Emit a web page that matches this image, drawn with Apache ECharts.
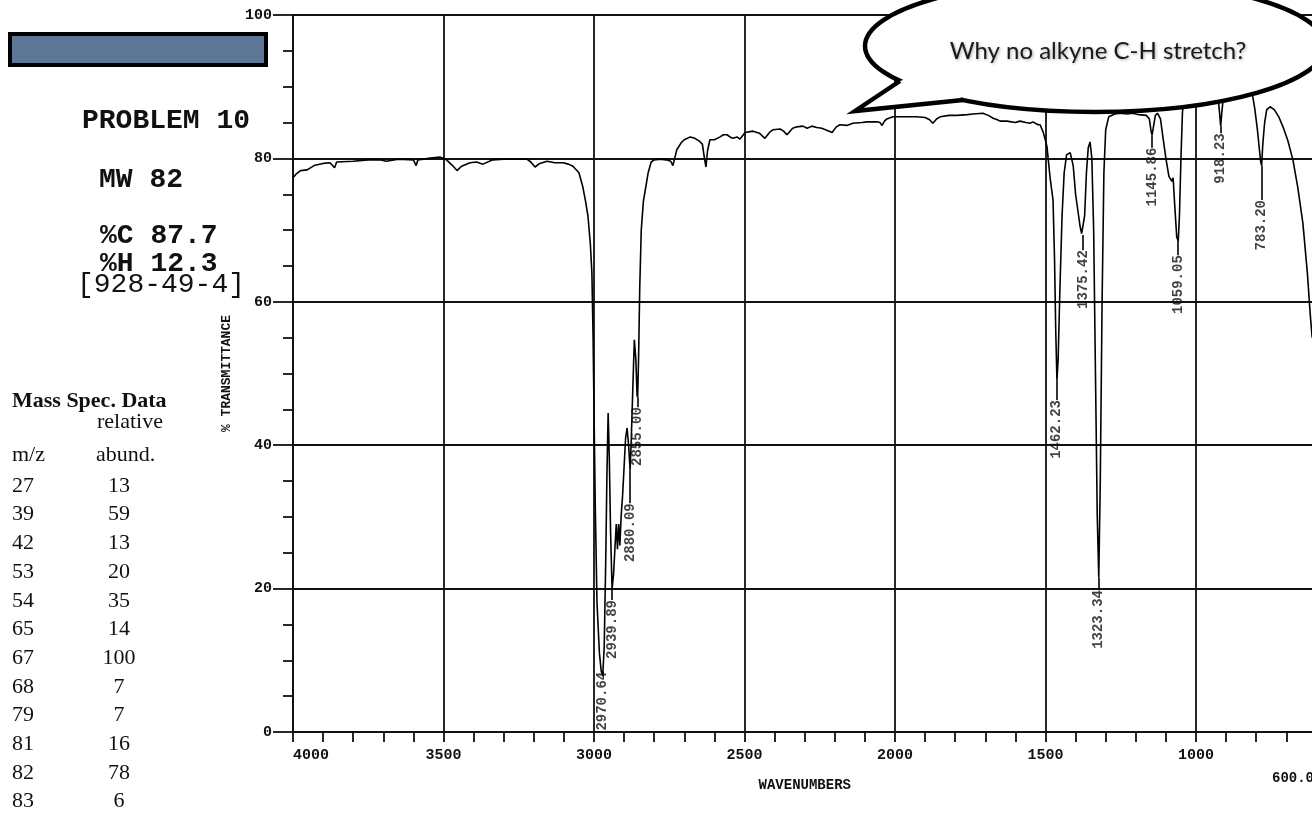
<!DOCTYPE html>
<html>
<head>
<meta charset="utf-8">
<script src="https://cdn.jsdelivr.net/npm/echarts@6/dist/echarts.min.js"></script>
<style>
  html, body { margin: 0; padding: 0; background: #fff; }
  #chart { width: 1312px; height: 813px; }
</style>
</head>
<body>
<div id="chart"></div>
<script>
// ---- IR spectrum (wavenumber cm-1, % transmittance) ----
const wavenumbers = [
  4000, 3990, 3975, 3953, 3930, 3900, 3877, 3862, 3855, 3800, 3750, 3711, 3690, 3650, 3600, 3591, 3585,
  3550, 3512, 3490, 3470, 3455, 3440, 3412, 3390, 3369, 3336, 3300, 3260, 3223, 3210, 3196, 3180, 3156,
  3130, 3103, 3085, 3070, 3050, 3037, 3028, 3020, 3012, 3007, 3003, 3000, 2996, 2990, 2982, 2976, 2971,
  2966, 2961, 2957, 2953, 2949, 2945, 2940, 2935, 2930, 2926, 2922, 2918, 2914, 2910, 2905, 2900, 2895,
  2890, 2885, 2880, 2876, 2871, 2866, 2861, 2857, 2855, 2852, 2848, 2843, 2836, 2828, 2820, 2810, 2800,
  2780, 2760, 2745, 2738, 2732, 2725, 2710, 2700, 2680, 2665, 2650, 2640, 2633, 2628, 2623, 2615, 2600,
  2581, 2570, 2558, 2545, 2538, 2525, 2515, 2498, 2472, 2450, 2432, 2415, 2405, 2382, 2370, 2359, 2340,
  2326, 2306, 2292, 2276, 2260, 2243, 2225, 2209, 2195, 2183, 2160, 2140, 2110, 2093, 2060, 2050, 2043,
  2035, 2027, 2007, 1980, 1960, 1930, 1900, 1885, 1874, 1862, 1850, 1820, 1794, 1760, 1741, 1708, 1690,
  1674, 1660, 1651, 1628, 1600, 1585, 1565, 1551, 1542, 1525, 1518, 1508, 1500, 1495, 1485, 1475, 1470,
  1466, 1462, 1458, 1452, 1445, 1438, 1430, 1418, 1408, 1400, 1390, 1385, 1380, 1375, 1370, 1364, 1358,
  1352, 1346, 1340, 1334, 1328, 1323, 1318, 1312, 1306, 1300, 1290, 1270, 1250, 1230, 1210, 1190, 1165,
  1155, 1150, 1146, 1141, 1135, 1128, 1118, 1110, 1100, 1090, 1084, 1080, 1076, 1070, 1064, 1059, 1055,
  1050, 1045, 1040, 1030, 1000, 970, 940, 928, 922, 918, 914, 908, 880, 850, 815, 805, 796, 790, 785, 782,
  778, 772, 765, 754, 740, 725, 711, 695, 678, 662, 645, 630, 620, 614
];
const transmittance = [
  77.3, 77.8, 78.3, 78.4, 79.0, 79.3, 79.4, 78.7, 79.5, 79.6, 79.8, 79.8, 79.6, 79.9, 79.8, 79.0, 79.8,
  80.0, 80.2, 79.8, 79.0, 78.3, 78.9, 79.4, 79.5, 79.2, 79.8, 79.9, 79.9, 79.9, 79.5, 78.8, 79.3, 79.6,
  79.4, 79.4, 79.2, 78.9, 78.0, 76.0, 74.0, 71.9, 68.0, 64.0, 55.0, 45.0, 32.0, 18.0, 11.0, 8.5, 7.8,
  12.0, 24.0, 36.0, 44.5, 38.0, 28.0, 20.0, 22.0, 26.0, 29.0, 25.5, 29.0, 26.0, 30.0, 33.0, 37.0, 41.0,
  42.4, 40.0, 36.5, 41.0, 48.0, 54.7, 52.0, 47.0, 46.7, 52.0, 62.0, 70.0, 74.0, 76.0, 78.0, 79.5, 79.8,
  79.9, 79.8, 79.6, 79.0, 80.0, 81.2, 82.2, 82.6, 83.0, 82.8, 82.4, 82.0, 80.0, 78.8, 81.0, 82.6, 82.6,
  83.0, 83.3, 83.3, 82.9, 82.8, 83.0, 82.7, 83.6, 83.8, 83.5, 82.8, 83.7, 84.0, 84.1, 83.8, 83.3, 84.2,
  84.4, 84.5, 84.2, 84.5, 84.3, 84.2, 83.9, 83.6, 84.4, 84.7, 84.6, 84.9, 85.0, 85.1, 85.1, 85.0, 84.6,
  85.2, 85.5, 85.8, 85.8, 85.8, 85.8, 85.7, 85.4, 84.9, 85.5, 85.8, 86.0, 86.0, 86.1, 86.2, 86.3, 86.0,
  85.6, 85.4, 85.2, 85.2, 85.0, 85.2, 85.0, 84.9, 85.1, 84.7, 84.7, 83.7, 82.5, 81.6, 77.4, 74.2, 66.0,
  56.0, 49.0, 52.0, 62.0, 72.0, 78.0, 80.5, 80.8, 79.0, 75.0, 72.0, 70.5, 69.5, 69.3, 72.0, 78.0, 81.5,
  82.3, 80.0, 70.0, 50.0, 30.0, 21.5, 35.0, 60.0, 78.0, 84.0, 85.8, 86.2, 86.3, 86.2, 86.3, 86.1, 86.0,
  85.5, 84.0, 83.2, 84.5, 86.0, 86.3, 85.5, 83.0, 80.0, 77.5, 77.4, 76.8, 77.3, 73.0, 69.0, 68.5, 72.0,
  80.0, 86.4, 88.5, 90.0, 90.5, 90.5, 90.0, 89.0, 86.5, 84.5, 86.5, 89.0, 90.0, 90.0, 89.5, 87.0, 84.0, 81.5, 79.5, 79.0,
  82.0, 85.0, 86.8, 87.2, 86.8, 85.8, 84.4, 82.5, 79.8, 76.0, 71.0, 64.0, 58.0, 55.0
];

// ---- peak annotations ----
const peakWn     = [2970.64, 2939.89, 2880.09, 2855.00, 1462.23, 1375.42, 1323.34, 1145.86, 1059.05, 918.23, 783.20];
const peakText   = ['2970.64', '2939.89', '2880.09', '2855.00', '1462.23', '1375.42', '1323.34', '1145.86', '1059.05', '918.23', '783.20'];
const peakMinT   = [7.8, 20.0, 36.5, 46.7, 49.0, 69.3, 21.5, 83.2, 68.5, 84.5, 79.0];
const labelTopT  = [8.4, 18.4, 31.9, 45.3, 46.3, 67.2, 19.8, 81.5, 66.5, 83.5, 74.2];

// ---- axis settings ----
const yTicks = [0, 20, 40, 60, 80, 100];
const xEndLabel = '600.0';

// ---- side panel ----
const problemLines = ['PROBLEM 10', 'MW 82', '%C 87.7', '%H 12.3'];
const casNumber = '[928-49-4]';
const massMz = ['27', '39', '42', '53', '54', '65', '67', '68', '79', '81', '82', '83'];
const massAbund = ['13', '59', '13', '20', '35', '14', '100', '7', '7', '16', '78', '6'];
const bubbleText = 'Why no alkyne C-H stretch?';

const spectrum = wavenumbers.map((w, i) => [w, transmittance[i]]);
const peakPoints = peakWn.map((w, i) => ({ value: [w, labelTopT[i]], label: { formatter: peakText[i] } }));
const leaderLines = peakWn.map((w, i) => [{ coord: [w, peakMinT[i]] }, { coord: [w, labelTopT[i]] }]);

const mono = 'Liberation Mono';
const serif = 'Liberation Serif';
const ink = '#111';

const graphics = [];
// blue bar
graphics.push({ type: 'rect', z: 100, shape: { x: 10, y: 34, width: 256, height: 31 },
  style: { fill: '#5f7797', stroke: '#000', lineWidth: 4 } });
// problem text
const probPos = [[82, 121], [99, 180], [100, 236], [100, 264]];
problemLines.forEach((t, i) => graphics.push({ type: 'text', z: 100, x: probPos[i][0], y: probPos[i][1],
  style: { text: t, font: 'bold 28px "' + mono + '"', fill: ink, textVerticalAlign: 'middle' } }));
graphics.push({ type: 'text', z: 100, x: 77, y: 285,
  style: { text: casNumber, font: '28px "' + mono + '"', fill: ink, textVerticalAlign: 'middle' } });
// mass spec table
graphics.push({ type: 'text', z: 100, x: 12, y: 401,
  style: { text: 'Mass Spec. Data', font: 'bold 22px "' + serif + '"', fill: ink, textVerticalAlign: 'middle' } });
graphics.push({ type: 'text', z: 100, x: 97, y: 422,
  style: { text: 'relative', font: '22px "' + serif + '"', fill: ink, textVerticalAlign: 'middle' } });
graphics.push({ type: 'text', z: 100, x: 12, y: 455,
  style: { text: 'm/z', font: '22px "' + serif + '"', fill: ink, textVerticalAlign: 'middle' } });
graphics.push({ type: 'text', z: 100, x: 96, y: 455,
  style: { text: 'abund.', font: '22px "' + serif + '"', fill: ink, textVerticalAlign: 'middle' } });
massMz.forEach((m, i) => {
  const y = 486 + i * 28.7;
  graphics.push({ type: 'text', z: 100, x: 12, y: y,
    style: { text: m, font: '22px "' + serif + '"', fill: ink, textVerticalAlign: 'middle' } });
  graphics.push({ type: 'text', z: 100, x: 119, y: y,
    style: { text: massAbund[i], font: '22px "' + serif + '"', fill: ink, textAlign: 'center', textVerticalAlign: 'middle' } });
});
// end label of the x axis
graphics.push({ type: 'text', z: 100, x: 1272, y: 778,
  style: { text: xEndLabel, font: 'bold 14px "' + mono + '"', fill: ink, textVerticalAlign: 'middle' } });
// speech bubble
const bc = [1095, 46], brx = 230, bry = 66;
const tailA = [900, 81], tailTip = [855, 111], tailB = [963, 100], tailIn = [935, 70];
graphics.push({ type: 'ellipse', z: 200, shape: { cx: bc[0], cy: bc[1], rx: brx, ry: bry },
  style: { fill: '#fff', stroke: '#000', lineWidth: 4.5 } });
graphics.push({ type: 'polygon', z: 201, shape: { points: [tailA, tailTip, tailB, tailIn] },
  style: { fill: '#fff', stroke: null } });
graphics.push({ type: 'polyline', z: 202, shape: { points: [tailA, tailTip, tailB] },
  style: { fill: null, stroke: '#000', lineWidth: 4.5, lineJoin: 'miter' } });
graphics.push({ type: 'text', z: 203, x: 1098, y: 51,
  style: { text: bubbleText, font: '24px Lato', fill: '#1a1a1a', textAlign: 'center', textVerticalAlign: 'middle',
           textShadowColor: 'rgba(0,0,0,0.35)', textShadowBlur: 3, textShadowOffsetX: 1, textShadowOffsetY: 1 } });

const chart = echarts.init(document.getElementById('chart'), null, { renderer: 'canvas' });
chart.setOption({
  backgroundColor: '#fff',
  animation: false,
  grid: { left: 293, top: 15, width: 1053.5, height: 717, containLabel: false, outerBoundsMode: 'none' },
  xAxis: {
    type: 'value', inverse: true, min: 500, max: 4000, interval: 500,
    name: 'WAVENUMBERS', nameLocation: 'middle', nameGap: 46,
    nameTextStyle: { fontFamily: mono, fontWeight: 'bold', fontSize: 14, color: ink, padding: [0, 30, 0, 0] },
    axisLine: { show: true, onZero: false, lineStyle: { color: ink, width: 2 } },
    axisTick: { show: true, length: 10, lineStyle: { color: ink, width: 1.8 } },
    minorTick: { show: true, splitNumber: 5, length: 10, lineStyle: { color: ink, width: 1.8 } },
    axisLabel: { margin: 16, fontFamily: mono, fontWeight: 'bold', fontSize: 15, color: ink,
      alignMaxLabel: 'left',
      formatter: v => (v === 500 ? '' : String(v)) },
    splitLine: { show: true, lineStyle: { color: ink, width: 1.8 } }
  },
  yAxis: {
    type: 'value', min: yTicks[0], max: yTicks[yTicks.length - 1], interval: 20,
    name: '% TRANSMITTANCE', nameLocation: 'middle', nameGap: 60, nameRotate: 90,
    nameTextStyle: { fontFamily: mono, fontWeight: 'bold', fontSize: 13, color: ink },
    axisLine: { show: true, lineStyle: { color: ink, width: 2 } },
    axisTick: { show: true, length: 20, lineStyle: { color: ink, width: 1.8 } },
    minorTick: { show: true, splitNumber: 4, length: 10, lineStyle: { color: ink, width: 1.8 } },
    axisLabel: { margin: 21, fontFamily: mono, fontWeight: 'bold', fontSize: 15, color: ink },
    splitLine: { show: true, lineStyle: { color: ink, width: 1.8 } }
  },
  graphic: graphics,
  series: [
    {
      type: 'line', data: spectrum, showSymbol: false, symbol: 'none', z: 5,
      lineStyle: { color: '#000', width: 1.6 }, clip: true
    },
    {
      type: 'scatter', data: peakPoints, symbolSize: 0.1, z: 6, silent: true,
      label: { show: true, position: 'inside', rotate: 90, align: 'right', verticalAlign: 'middle',
        fontFamily: mono, fontWeight: 'bold', fontSize: 14, color: ink },
      markLine: { silent: true, symbol: 'none', label: { show: false },
        lineStyle: { color: '#000', width: 1.6, type: 'solid' }, data: leaderLines }
    }
  ]
});
</script>
</body>
</html>
